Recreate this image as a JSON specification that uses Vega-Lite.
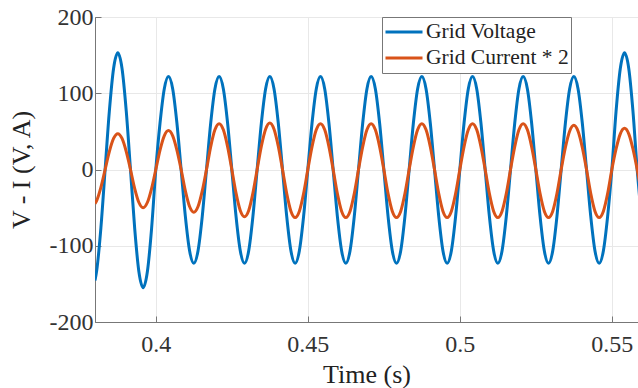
{
"$schema":"https://vega.github.io/schema/vega-lite/v6.json",
"width":543,"height":305,
"autosize":{"type":"none"},
"padding":{"left":95,"top":17,"right":0,"bottom":66},
"background":"white",
"config":{"view":{"stroke":"#777","strokeWidth":1},"font":"Liberation Serif",
"axis":{"labelFont":"Liberation Serif","titleFont":"Liberation Serif"},
"legend":{"labelFont":"Liberation Serif"}},
"data":{"values":[
{"t":0.38,"V":-145.5,"I":-44.7},
{"t":0.38056,"V":-132.5,"I":-40.7},
{"t":0.38194,"V":-76.5,"I":-23.5},
{"t":0.38333,"V":0,"I":0},
{"t":0.38472,"V":76.5,"I":23.5},
{"t":0.38611,"V":132.5,"I":40.7},
{"t":0.3875,"V":153,"I":47},
{"t":0.38889,"V":132.5,"I":40.7},
{"t":0.39028,"V":76.5,"I":23.5},
{"t":0.39167,"V":0,"I":0},
{"t":0.39306,"V":-77.5,"I":-25},
{"t":0.39444,"V":-134.2,"I":-43.3},
{"t":0.39583,"V":-155,"I":-50},
{"t":0.39722,"V":-134.2,"I":-43.3},
{"t":0.39861,"V":-77.5,"I":-25},
{"t":0.4,"V":0,"I":0},
{"t":0.40139,"V":61,"I":25.5},
{"t":0.40278,"V":105.7,"I":44.2},
{"t":0.40417,"V":122,"I":51},
{"t":0.40556,"V":105.7,"I":44.2},
{"t":0.40694,"V":61,"I":25.5},
{"t":0.40833,"V":0,"I":0},
{"t":0.40972,"V":-61.5,"I":-28},
{"t":0.41111,"V":-106.5,"I":-48.5},
{"t":0.4125,"V":-123,"I":-56},
{"t":0.41389,"V":-106.5,"I":-48.5},
{"t":0.41528,"V":-61.5,"I":-28},
{"t":0.41667,"V":0,"I":0},
{"t":0.41806,"V":61,"I":30},
{"t":0.41944,"V":105.7,"I":52},
{"t":0.42083,"V":122,"I":60},
{"t":0.42222,"V":105.7,"I":52},
{"t":0.42361,"V":61,"I":30},
{"t":0.425,"V":0,"I":0},
{"t":0.42639,"V":-61.5,"I":-31},
{"t":0.42778,"V":-106.5,"I":-53.7},
{"t":0.42917,"V":-123,"I":-62},
{"t":0.43056,"V":-106.5,"I":-53.7},
{"t":0.43194,"V":-61.5,"I":-31},
{"t":0.43333,"V":0,"I":0},
{"t":0.43472,"V":61,"I":30.5},
{"t":0.43611,"V":105.7,"I":52.8},
{"t":0.4375,"V":122,"I":61},
{"t":0.43889,"V":105.7,"I":52.8},
{"t":0.44028,"V":61,"I":30.5},
{"t":0.44167,"V":0,"I":0},
{"t":0.44306,"V":-61.5,"I":-31.5},
{"t":0.44444,"V":-106.5,"I":-54.6},
{"t":0.44583,"V":-123,"I":-63},
{"t":0.44722,"V":-106.5,"I":-54.6},
{"t":0.44861,"V":-61.5,"I":-31.5},
{"t":0.45,"V":0,"I":0},
{"t":0.45139,"V":61,"I":30},
{"t":0.45278,"V":105.7,"I":52},
{"t":0.45417,"V":122,"I":60},
{"t":0.45556,"V":105.7,"I":52},
{"t":0.45694,"V":61,"I":30},
{"t":0.45833,"V":0,"I":0},
{"t":0.45972,"V":-61.5,"I":-31.5},
{"t":0.46111,"V":-106.5,"I":-54.6},
{"t":0.4625,"V":-123,"I":-63},
{"t":0.46389,"V":-106.5,"I":-54.6},
{"t":0.46528,"V":-61.5,"I":-31.5},
{"t":0.46667,"V":0,"I":0},
{"t":0.46806,"V":61,"I":30},
{"t":0.46944,"V":105.7,"I":52},
{"t":0.47083,"V":122,"I":60},
{"t":0.47222,"V":105.7,"I":52},
{"t":0.47361,"V":61,"I":30},
{"t":0.475,"V":0,"I":0},
{"t":0.47639,"V":-61.5,"I":-31.5},
{"t":0.47778,"V":-106.5,"I":-54.6},
{"t":0.47917,"V":-123,"I":-63},
{"t":0.48056,"V":-106.5,"I":-54.6},
{"t":0.48194,"V":-61.5,"I":-31.5},
{"t":0.48333,"V":0,"I":0},
{"t":0.48472,"V":61,"I":30},
{"t":0.48611,"V":105.7,"I":52},
{"t":0.4875,"V":122,"I":60},
{"t":0.48889,"V":105.7,"I":52},
{"t":0.49028,"V":61,"I":30},
{"t":0.49167,"V":0,"I":0},
{"t":0.49306,"V":-61.5,"I":-31.5},
{"t":0.49444,"V":-106.5,"I":-54.6},
{"t":0.49583,"V":-123,"I":-63},
{"t":0.49722,"V":-106.5,"I":-54.6},
{"t":0.49861,"V":-61.5,"I":-31.5},
{"t":0.5,"V":0,"I":0},
{"t":0.50139,"V":61,"I":30},
{"t":0.50278,"V":105.7,"I":52},
{"t":0.50417,"V":122,"I":60},
{"t":0.50556,"V":105.7,"I":52},
{"t":0.50694,"V":61,"I":30},
{"t":0.50833,"V":0,"I":0},
{"t":0.50972,"V":-61.5,"I":-31.5},
{"t":0.51111,"V":-106.5,"I":-54.6},
{"t":0.5125,"V":-123,"I":-63},
{"t":0.51389,"V":-106.5,"I":-54.6},
{"t":0.51528,"V":-61.5,"I":-31.5},
{"t":0.51667,"V":0,"I":0},
{"t":0.51806,"V":61,"I":30},
{"t":0.51944,"V":105.7,"I":52},
{"t":0.52083,"V":122,"I":60},
{"t":0.52222,"V":105.7,"I":52},
{"t":0.52361,"V":61,"I":30},
{"t":0.525,"V":0,"I":0},
{"t":0.52639,"V":-61.5,"I":-31.5},
{"t":0.52778,"V":-106.5,"I":-54.6},
{"t":0.52917,"V":-123,"I":-63},
{"t":0.53056,"V":-106.5,"I":-54.6},
{"t":0.53194,"V":-61.5,"I":-31.5},
{"t":0.53333,"V":0,"I":0},
{"t":0.53472,"V":61,"I":29},
{"t":0.53611,"V":105.7,"I":50.2},
{"t":0.5375,"V":122,"I":58},
{"t":0.53889,"V":105.7,"I":50.2},
{"t":0.54028,"V":61,"I":29},
{"t":0.54167,"V":0,"I":0},
{"t":0.54306,"V":-61.5,"I":-31.5},
{"t":0.54444,"V":-106.5,"I":-54.6},
{"t":0.54583,"V":-123,"I":-63},
{"t":0.54722,"V":-106.5,"I":-54.6},
{"t":0.54861,"V":-61.5,"I":-31.5},
{"t":0.55,"V":0,"I":0},
{"t":0.55139,"V":76.5,"I":27},
{"t":0.55278,"V":132.5,"I":46.8},
{"t":0.55417,"V":153,"I":54},
{"t":0.55556,"V":132.5,"I":46.8},
{"t":0.55694,"V":76.5,"I":27},
{"t":0.55833,"V":0,"I":0},
{"t":0.55972,"V":-61.5,"I":-31.5}
]},
"transform":[{"fold":["V","I"],"as":["key","value"]}],
"mark":{"type":"line","interpolate":"monotone","strokeWidth":3,"clip":true},
"encoding":{
"x":{"field":"t","type":"quantitative","scale":{"domain":[0.38,0.5586],"nice":false,"zero":false},
"axis":{"values":[0.4,0.45,0.5,0.55],"labelExpr":"datum.value + ''","title":"Time (s)","titleFont":"Liberation Serif","titleFontSize":26,"titleFontWeight":"normal","titleColor":"#222","titleBaseline":"alphabetic","titleY":60,
"labelFont":"Liberation Serif","labelFontSize":24,"labelColor":"#333","labelPadding":16,"tickSize":-6,"tickColor":"#777","domainColor":"#777","grid":true,"gridColor":"#e8e8e8"}},
"y":{"field":"value","type":"quantitative","scale":{"domain":[-200,200],"nice":false,"zero":false},
"axis":{"values":[-200,-100,0,100,200],"labelExpr":"datum.value + ''","title":"V - I (V, A)","titleFont":"Liberation Serif","titleFontSize":26,"titleFontWeight":"normal","titleColor":"#222","titleAngle":-90,"titleAlign":"center","titleBaseline":"alphabetic","titleX":-66,"titleY":152.5,
"labelFont":"Liberation Serif","labelFontSize":24,"labelColor":"#333","labelPadding":8,"tickSize":-6,"tickColor":"#777","domainColor":"#777","grid":true,"gridColor":"#e8e8e8"}},
"color":{"field":"key","type":"nominal","sort":["V","I"],"scale":{"domain":["V","I"],"range":["#0072BD","#D95319"]},
"legend":{"orient":"none","legendX":287,"legendY":0,"zindex":1,"title":null,"labelExpr":"datum.label == 'V' ? 'Grid Voltage' : 'Grid Current * 2'","symbolType":"stroke","symbolSize":1369,"symbolStrokeWidth":3,"clipHeight":26,"labelFont":"Liberation Serif","labelFontSize":21.5,"labelColor":"#222","labelOffset":2,"strokeColor":"#777","fillColor":"white","padding":2,"rowPadding":0}}
}
}
